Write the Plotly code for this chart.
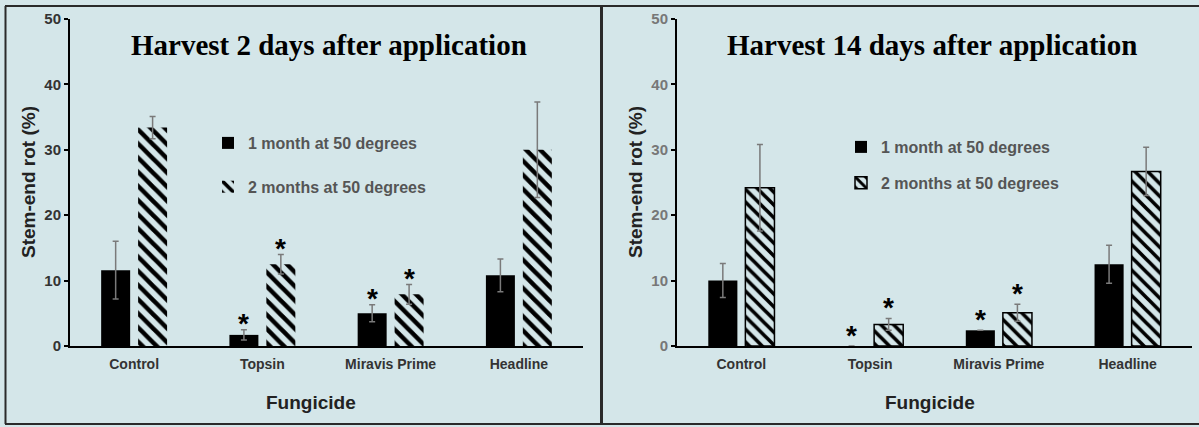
import plotly.graph_objects as go

# ---------------- data ----------------
categories = ["Control", "Topsin", "Miravis Prime", "Headline"]
series_names = ["1 month at 50 degrees", "2 months at 50 degrees"]

# Panel A: harvest 2 days after application
a_1month = [11.6, 1.7, 5.0, 10.8]
a_1month_err = [4.4, 0.8, 1.3, 2.5]
a_2month = [33.4, 12.5, 7.9, 30.0]
a_2month_err = [1.7, 1.5, 1.5, 7.3]
a_1month_sig = [False, True, True, False]
a_2month_sig = [False, True, True, False]

# Panel B: harvest 14 days after application
b_1month = [10.0, 0.0, 2.4, 12.5]
b_1month_err = [2.6, None, None, 2.9]
b_2month = [24.2, 3.3, 5.1, 26.7]
b_2month_err = [6.6, 0.9, 1.3, 3.7]
b_1month_sig = [False, True, True, False]
b_2month_sig = [False, True, True, False]

titles = ["Harvest 2 days after application", "Harvest 14 days after application"]
y_title = "Stem-end rot (%)"
x_title = "Fungicide"
y_ticks = [0, 10, 20, 30, 40, 50]

# ---------------- style ----------------
W, H = 1199, 427
BG = "#d4e6e9"
BAR_W = 0.226
OFF_1 = -0.257
OFF_2 = 0.031
ERR_COLOR = "#7a7a7a"


def px(x):
    return x / W


def py(y):
    return 1 - y / H


fig = go.Figure()

panels = [
    dict(xa="x", ya="y", legend="legend", v1=a_1month, e1=a_1month_err, v2=a_2month, e2=a_2month_err,
         s1=a_1month_sig, s2=a_2month_sig, hatch_line=0, hatch_size=10, hatch_solid=0.45, star_shift=6),
    dict(xa="x2", ya="y2", legend="legend2", v1=b_1month, e1=b_1month_err, v2=b_2month, e2=b_2month_err,
         s1=b_1month_sig, s2=b_2month_sig, hatch_line=1.5, hatch_size=9, hatch_solid=0.4, star_shift=11),
]

annotations = []
for p in panels:
    fig.add_trace(go.Bar(
        x=categories, y=p["v1"], name=series_names[0], xaxis=p["xa"], yaxis=p["ya"],
        width=BAR_W, offset=OFF_1, legend=p["legend"], legendgroup=p["legend"] + "a",
        marker=dict(color="black", line=dict(width=0)),
        error_y=dict(type="data", array=p["e1"], visible=True, color=ERR_COLOR, thickness=1.5, width=3),
    ))
    fig.add_trace(go.Bar(
        x=categories, y=p["v2"], name=series_names[1], xaxis=p["xa"], yaxis=p["ya"],
        width=BAR_W, offset=OFF_2, legend=p["legend"], legendgroup=p["legend"] + "b",
        marker=dict(color=BG, line=dict(width=p["hatch_line"], color="black"),
                    pattern=dict(shape="\\", fgcolor="black", bgcolor=BG, size=p["hatch_size"],
                                 solidity=p["hatch_solid"], fgopacity=1, fillmode="replace")),
        error_y=dict(type="data", array=p["e2"], visible=True, color=ERR_COLOR, thickness=1.5, width=3),
    ))
    for vals, errs, sigs, shift in [(p["v1"], p["e1"], p["s1"], OFF_1 + BAR_W / 2),
                                    (p["v2"], p["e2"], p["s2"], OFF_2 + BAR_W / 2)]:
        for i, (v, e, s) in enumerate(zip(vals, errs, sigs)):
            if s:
                annotations.append(dict(
                    x=i + shift, y=v + (e or 0), xref=p["xa"], yref=p["ya"], text="*",
                    showarrow=False, yanchor="middle", yshift=p["star_shift"],
                    font=dict(family="Liberation Sans", size=28, color="black", weight="bold"),
                ))

title_cx = [329, 932]
ytitle_cx = [28, 635]
xtitle_cx = [311, 930]
for k in range(2):
    annotations.append(dict(x=px(title_cx[k]), y=py(45), xref="paper", yref="paper", text=titles[k],
                            showarrow=False, xanchor="center", yanchor="middle",
                            font=dict(family="Liberation Serif", size=29, color="black", weight="bold")))
    annotations.append(dict(x=px(ytitle_cx[k]), y=py(182), xref="paper", yref="paper", text=y_title,
                            showarrow=False, textangle=-90, xanchor="center", yanchor="middle",
                            font=dict(family="Liberation Sans", size=19, color="#222", weight="bold")))
    annotations.append(dict(x=px(xtitle_cx[k]), y=py(402), xref="paper", yref="paper", text=x_title,
                            showarrow=False, xanchor="center", yanchor="middle",
                            font=dict(family="Liberation Sans", size=19, color="#222", weight="bold")))

shapes = [
    dict(type="line", xref="paper", yref="paper", x0=px(5), x1=1, y0=py(6), y1=py(6),
         line=dict(color="#2a2a2a", width=2)),
    dict(type="line", xref="paper", yref="paper", x0=px(5), x1=1, y0=py(424), y1=py(424),
         line=dict(color="#2a2a2a", width=2)),
    dict(type="line", xref="paper", yref="paper", x0=px(5.5), x1=px(5.5), y0=py(6), y1=py(424),
         line=dict(color="#2a2a2a", width=2)),
    dict(type="line", xref="paper", yref="paper", x0=px(601.5), x1=px(601.5), y0=py(6), y1=py(424),
         line=dict(color="#2a2a2a", width=3)),
]

xaxis_common = dict(type="category", range=[-0.5, 3.5], showline=True, linecolor="black", linewidth=2,
                    ticks="", showgrid=False, zeroline=False, ticklabelstandoff=4, automargin=False,
                    tickfont=dict(family="Liberation Sans", size=14, color="#333", weight="bold"))
yaxis_common = dict(range=[0, 50], tickvals=y_ticks, showline=True, linecolor="black", linewidth=2,
                    ticks="outside", ticklen=4, tickwidth=2, tickcolor="black", showgrid=False, zeroline=False,
                    automargin=False, domain=[py(346), py(19)])

fig.update_layout(
    width=W, height=H, margin=dict(l=0, r=0, t=0, b=0, pad=0, autoexpand=False),
    paper_bgcolor=BG, plot_bgcolor=BG,
    barmode="overlay",
    xaxis=dict(xaxis_common, domain=[px(70), px(583)], anchor="y"),
    xaxis2=dict(xaxis_common, domain=[px(677), px(1192)], anchor="y2"),
    yaxis=dict(yaxis_common, anchor="x",
               tickfont=dict(family="Liberation Sans", size=15, color="#333", weight="bold")),
    yaxis2=dict(yaxis_common, anchor="x2",
                tickfont=dict(family="Liberation Sans", size=15, color="#777", weight="bold")),
    legend=dict(x=px(208), y=py(126), xanchor="left", yanchor="top", bgcolor="rgba(0,0,0,0)",
                tracegroupgap=20, font=dict(family="Liberation Sans", size=16, color="#555", weight="bold")),
    legend2=dict(x=px(841), y=py(130), xanchor="left", yanchor="top", bgcolor="rgba(0,0,0,0)",
                 tracegroupgap=12, font=dict(family="Liberation Sans", size=16, color="#555", weight="bold")),
    annotations=annotations,
    shapes=shapes,
)

fig.write_html(
    "out.html",
    config={"displayModeBar": False},
    post_script="document.body.style.margin='0';document.body.style.padding='0';"
                "document.body.style.overflow='hidden';document.documentElement.style.overflow='hidden';",
)
